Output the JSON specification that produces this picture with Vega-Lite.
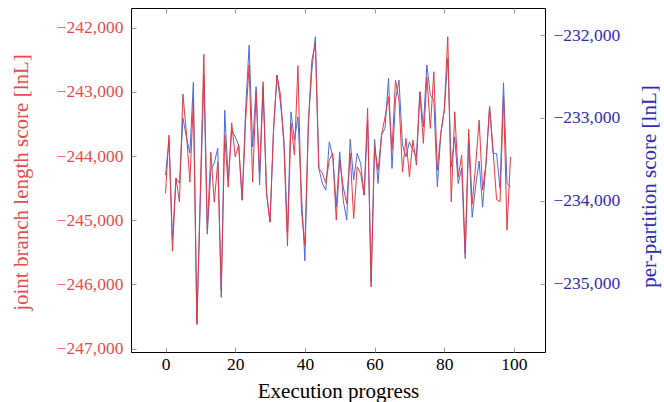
{
  "$schema": "https://vega.github.io/schema/vega-lite/v6.json",
  "width": 414,
  "height": 344,
  "autosize": {"type": "none"},
  "padding": {"left": 131, "top": 8, "right": 119, "bottom": 50},
  "background": "white",
  "config": {
    "view": {"stroke": "#000", "strokeWidth": 1},
    "font": "Liberation Serif",
    "axis": {
      "domain": false, "grid": false, "tickColor": "#999", "tickSize": 5, "tickWidth": 1, "offset": -5,
      "labelFont": "Liberation Serif", "labelFontSize": 17.5,
      "titleFont": "Liberation Serif", "titleFontSize": 21, "titleFontWeight": "normal"
    }
  },
  "data": {"values": [
    {"step":0,"red":-244583,"blue":-233692},{"step":1,"red":-243673,"blue":-233269},{"step":2,"red":-245483,"blue":-234477},{"step":3,"red":-244344,"blue":-233728},{"step":4,"red":-244714,"blue":-233788},
    {"step":5,"red":-243034,"blue":-233003},{"step":6,"red":-243642,"blue":-233232},{"step":7,"red":-244406,"blue":-233426},{"step":8,"red":-243128,"blue":-232568},{"step":9,"red":-246621,"blue":-235492},
    {"step":10,"red":-244531,"blue":-233994},{"step":11,"red":-242415,"blue":-232483},{"step":12,"red":-245155,"blue":-234404},{"step":13,"red":-243939,"blue":-233631},{"step":14,"red":-244718,"blue":-233547},
    {"step":15,"red":-244095,"blue":-233365},{"step":16,"red":-246091,"blue":-235166},{"step":17,"red":-243673,"blue":-232906},{"step":18,"red":-244484,"blue":-233752},{"step":19,"red":-243482,"blue":-233148},
    {"step":20,"red":-244012,"blue":-233229},{"step":21,"red":-243829,"blue":-233329},{"step":22,"red":-244687,"blue":-233994},{"step":23,"red":-243440,"blue":-232906},{"step":24,"red":-242582,"blue":-232121},
    {"step":25,"red":-244406,"blue":-233350},{"step":26,"red":-242998,"blue":-232625},{"step":27,"red":-244266,"blue":-233812},{"step":28,"red":-242842,"blue":-232625},{"step":29,"red":-244578,"blue":-233909},
    {"step":30,"red":-245030,"blue":-234259},{"step":31,"red":-243595,"blue":-233148},{"step":32,"red":-242738,"blue":-232483},{"step":33,"red":-243050,"blue":-232822},{"step":34,"red":-243856,"blue":-233269},
    {"step":35,"red":-245400,"blue":-234392},{"step":36,"red":-243491,"blue":-232927},{"step":37,"red":-243985,"blue":-233269},{"step":38,"red":-242593,"blue":-232987},{"step":39,"red":-244843,"blue":-233909},
    {"step":40,"red":-245389,"blue":-234727},{"step":41,"red":-243486,"blue":-233063},{"step":42,"red":-242504,"blue":-232423},{"step":43,"red":-242243,"blue":-232021},{"step":44,"red":-244193,"blue":-233611},
    {"step":45,"red":-244266,"blue":-233788},{"step":46,"red":-244422,"blue":-233873},{"step":47,"red":-244063,"blue":-233289},{"step":48,"red":-243954,"blue":-233470},{"step":49,"red":-244999,"blue":-234075},
    {"step":50,"red":-244063,"blue":-233410},{"step":51,"red":-244480,"blue":-233994},{"step":52,"red":-244739,"blue":-234235},{"step":53,"red":-243959,"blue":-233260},{"step":54,"red":-244973,"blue":-233752},
    {"step":55,"red":-244168,"blue":-233429},{"step":56,"red":-244271,"blue":-233550},{"step":57,"red":-244609,"blue":-233933},{"step":58,"red":-243257,"blue":-233027},{"step":59,"red":-246039,"blue":-234984},
    {"step":60,"red":-243856,"blue":-233260},{"step":61,"red":-244219,"blue":-233792},{"step":62,"red":-243673,"blue":-233208},{"step":63,"red":-243388,"blue":-233127},{"step":64,"red":-243076,"blue":-232523},
    {"step":65,"red":-243907,"blue":-233611},{"step":66,"red":-242816,"blue":-232785},{"step":67,"red":-243128,"blue":-232544},{"step":68,"red":-244251,"blue":-233329},{"step":69,"red":-243725,"blue":-233470},
    {"step":70,"red":-244324,"blue":-233289},{"step":71,"red":-243751,"blue":-233389},{"step":72,"red":-244141,"blue":-233470},{"step":73,"red":-242998,"blue":-232685},{"step":74,"red":-243803,"blue":-233108},
    {"step":75,"red":-242764,"blue":-232362},{"step":76,"red":-243569,"blue":-232725},{"step":77,"red":-242686,"blue":-232785},{"step":78,"red":-244219,"blue":-233833},{"step":79,"red":-243647,"blue":-233188},
    {"step":80,"red":-243284,"blue":-232906},{"step":81,"red":-242140,"blue":-232282},{"step":82,"red":-244714,"blue":-233591},{"step":83,"red":-243310,"blue":-233229},{"step":84,"red":-244324,"blue":-233792},
    {"step":85,"red":-243985,"blue":-233607},{"step":86,"red":-245514,"blue":-234698},{"step":87,"red":-243585,"blue":-233269},{"step":88,"red":-244750,"blue":-234199},{"step":89,"red":-244141,"blue":-233824},
    {"step":90,"red":-243440,"blue":-233522},{"step":91,"red":-244531,"blue":-234078},{"step":92,"red":-244095,"blue":-233534},{"step":93,"red":-243229,"blue":-232864},{"step":94,"red":-243907,"blue":-233429},
    {"step":95,"red":-244676,"blue":-233429},{"step":96,"red":-244714,"blue":-233852},{"step":97,"red":-243050,"blue":-232576},{"step":98,"red":-245155,"blue":-233792},{"step":99,"red":-244012,"blue":-233833}
  ]},
  "layer": [
    {
      "mark": {"type": "line", "color": "#4a6adf", "strokeWidth": 1},
      "encoding": {
        "x": {"field": "step", "type": "quantitative",
          "scale": {"domain": [-9.9, 108.9], "nice": false, "zero": false},
          "axis": {"orient": "top", "labels": false, "title": null, "values": [0, 20, 40, 60, 80, 100]}},
        "y": {"field": "blue", "type": "quantitative",
          "scale": {"domain": [-235826, -231674], "nice": false, "zero": false},
          "axis": {"orient": "right", "values": [-235000, -234000, -233000, -232000], "format": ",d",
            "labelColor": "#2c2cb0", "labelPadding": 8, "title": "per-partition score [lnL]",
            "titleColor": "#2c2cb0", "titleAngle": -90, "titleBaseline": "middle", "titleAlign": "center",
            "titleX": 109, "titleY": 178}}
      }
    },
    {
      "mark": {"type": "line", "color": "#e8383f", "strokeWidth": 1},
      "encoding": {
        "x": {"field": "step", "type": "quantitative",
          "scale": {"domain": [-9.9, 108.9], "nice": false, "zero": false},
          "axis": {"orient": "bottom", "values": [0, 20, 40, 60, 80, 100], "labelPadding": 3,
            "title": "Execution progress", "labelColor": "#000", "titleColor": "#000", "titlePadding": 8}},
        "y": {"field": "red", "type": "quantitative",
          "scale": {"domain": [-247053, -241693], "nice": false, "zero": false},
          "axis": {"orient": "left", "values": [-247000, -246000, -245000, -244000, -243000, -242000], "format": ",d",
            "labelColor": "#e84a4f", "labelPadding": 8, "title": "joint branch length score [lnL]",
            "titleColor": "#e84a4f", "titleAngle": -90, "titleBaseline": "middle", "titleAlign": "center",
            "titleX": -115, "titleY": 174}}
      }
    }
  ],
  "resolve": {"scale": {"y": "independent"}, "axis": {"x": "independent", "y": "independent"}}
}
